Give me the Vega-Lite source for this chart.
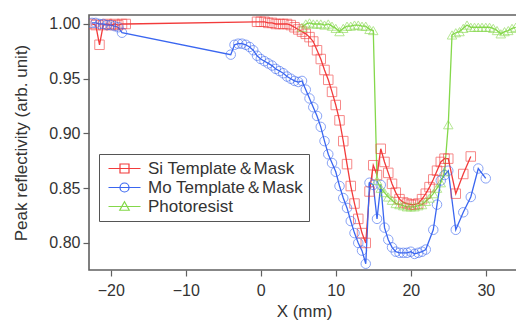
{
  "$schema": "https://vega.github.io/schema/vega-lite/v6.json",
  "width": 430,
  "height": 255,
  "autosize": {"type": "none"},
  "padding": {"left": 89, "top": 15, "right": 0, "bottom": 50},
  "background": "white",
  "config": {
    "font": "Liberation Sans",
    "view": {"stroke": "#606060", "strokeWidth": 1.6},
    "axis": {
      "domain": false,
      "grid": false,
      "tickColor": "#606060",
      "tickSize": 6,
      "tickWidth": 1.2,
      "labelFontSize": 16,
      "labelColor": "#333333",
      "labelFont": "Liberation Sans",
      "titleFontSize": 17,
      "titleFontWeight": "normal",
      "titleColor": "#333333",
      "titleFont": "Liberation Sans"
    }
  },
  "data": {
    "values": [
      {"series": "Si Template＆Mask", "x": -22.5, "y": 1.000},
      {"series": "Si Template＆Mask", "x": -22, "y": 0.999},
      {"series": "Si Template＆Mask", "x": -21.5, "y": 0.981},
      {"series": "Si Template＆Mask", "x": -21, "y": 0.999},
      {"series": "Si Template＆Mask", "x": -20.5, "y": 1.000},
      {"series": "Si Template＆Mask", "x": -20, "y": 0.999},
      {"series": "Si Template＆Mask", "x": -19.5, "y": 1.000},
      {"series": "Si Template＆Mask", "x": -19, "y": 0.999},
      {"series": "Si Template＆Mask", "x": -18.5, "y": 1.000},
      {"series": "Si Template＆Mask", "x": -18, "y": 1.000},
      {"series": "Si Template＆Mask", "x": -0.5, "y": 1.002},
      {"series": "Si Template＆Mask", "x": 0, "y": 1.002},
      {"series": "Si Template＆Mask", "x": 0.5, "y": 1.002},
      {"series": "Si Template＆Mask", "x": 1, "y": 1.001},
      {"series": "Si Template＆Mask", "x": 1.5, "y": 1.001},
      {"series": "Si Template＆Mask", "x": 2, "y": 1.000},
      {"series": "Si Template＆Mask", "x": 2.5, "y": 1.000},
      {"series": "Si Template＆Mask", "x": 3, "y": 1.000},
      {"series": "Si Template＆Mask", "x": 3.5, "y": 1.000},
      {"series": "Si Template＆Mask", "x": 4, "y": 0.999},
      {"series": "Si Template＆Mask", "x": 4.5, "y": 0.997},
      {"series": "Si Template＆Mask", "x": 5, "y": 0.995},
      {"series": "Si Template＆Mask", "x": 5.5, "y": 0.993},
      {"series": "Si Template＆Mask", "x": 6, "y": 0.991},
      {"series": "Si Template＆Mask", "x": 6.5, "y": 0.988},
      {"series": "Si Template＆Mask", "x": 7, "y": 0.984},
      {"series": "Si Template＆Mask", "x": 7.5, "y": 0.976},
      {"series": "Si Template＆Mask", "x": 8, "y": 0.968},
      {"series": "Si Template＆Mask", "x": 8.5, "y": 0.958},
      {"series": "Si Template＆Mask", "x": 9, "y": 0.949},
      {"series": "Si Template＆Mask", "x": 9.5, "y": 0.938},
      {"series": "Si Template＆Mask", "x": 10, "y": 0.926},
      {"series": "Si Template＆Mask", "x": 10.5, "y": 0.912},
      {"series": "Si Template＆Mask", "x": 11, "y": 0.893},
      {"series": "Si Template＆Mask", "x": 11.5, "y": 0.872},
      {"series": "Si Template＆Mask", "x": 12, "y": 0.852},
      {"series": "Si Template＆Mask", "x": 12.5, "y": 0.836},
      {"series": "Si Template＆Mask", "x": 13, "y": 0.822},
      {"series": "Si Template＆Mask", "x": 13.5, "y": 0.809},
      {"series": "Si Template＆Mask", "x": 14, "y": 0.800},
      {"series": "Si Template＆Mask", "x": 14.5, "y": 0.847},
      {"series": "Si Template＆Mask", "x": 15, "y": 0.871},
      {"series": "Si Template＆Mask", "x": 15.5, "y": 0.862},
      {"series": "Si Template＆Mask", "x": 16, "y": 0.886},
      {"series": "Si Template＆Mask", "x": 16.5, "y": 0.874},
      {"series": "Si Template＆Mask", "x": 17, "y": 0.864},
      {"series": "Si Template＆Mask", "x": 17.5, "y": 0.854},
      {"series": "Si Template＆Mask", "x": 18, "y": 0.846},
      {"series": "Si Template＆Mask", "x": 18.5, "y": 0.840},
      {"series": "Si Template＆Mask", "x": 19, "y": 0.837},
      {"series": "Si Template＆Mask", "x": 19.5, "y": 0.836},
      {"series": "Si Template＆Mask", "x": 20, "y": 0.835},
      {"series": "Si Template＆Mask", "x": 20.5, "y": 0.835},
      {"series": "Si Template＆Mask", "x": 21, "y": 0.836},
      {"series": "Si Template＆Mask", "x": 21.5, "y": 0.840},
      {"series": "Si Template＆Mask", "x": 22, "y": 0.845},
      {"series": "Si Template＆Mask", "x": 22.5, "y": 0.851},
      {"series": "Si Template＆Mask", "x": 23, "y": 0.858},
      {"series": "Si Template＆Mask", "x": 23.5, "y": 0.866},
      {"series": "Si Template＆Mask", "x": 24, "y": 0.874},
      {"series": "Si Template＆Mask", "x": 24.5, "y": 0.877},
      {"series": "Si Template＆Mask", "x": 25, "y": 0.877},
      {"series": "Si Template＆Mask", "x": 26, "y": 0.845},
      {"series": "Si Template＆Mask", "x": 27, "y": 0.863},
      {"series": "Si Template＆Mask", "x": 28, "y": 0.879},
      {"series": "Mo Template＆Mask", "x": -22.5, "y": 1.001},
      {"series": "Mo Template＆Mask", "x": -22, "y": 1.001},
      {"series": "Mo Template＆Mask", "x": -21.5, "y": 1.000},
      {"series": "Mo Template＆Mask", "x": -21, "y": 1.000},
      {"series": "Mo Template＆Mask", "x": -20.5, "y": 0.999},
      {"series": "Mo Template＆Mask", "x": -20, "y": 0.999},
      {"series": "Mo Template＆Mask", "x": -19.5, "y": 0.998},
      {"series": "Mo Template＆Mask", "x": -19, "y": 0.997},
      {"series": "Mo Template＆Mask", "x": -18.5, "y": 0.992},
      {"series": "Mo Template＆Mask", "x": -4, "y": 0.972},
      {"series": "Mo Template＆Mask", "x": -3.5, "y": 0.981},
      {"series": "Mo Template＆Mask", "x": -3, "y": 0.982},
      {"series": "Mo Template＆Mask", "x": -2.5, "y": 0.982},
      {"series": "Mo Template＆Mask", "x": -2, "y": 0.981},
      {"series": "Mo Template＆Mask", "x": -1.5, "y": 0.979},
      {"series": "Mo Template＆Mask", "x": -1, "y": 0.976},
      {"series": "Mo Template＆Mask", "x": -0.5, "y": 0.971},
      {"series": "Mo Template＆Mask", "x": 0, "y": 0.968},
      {"series": "Mo Template＆Mask", "x": 0.5, "y": 0.966},
      {"series": "Mo Template＆Mask", "x": 1, "y": 0.964},
      {"series": "Mo Template＆Mask", "x": 1.5, "y": 0.962},
      {"series": "Mo Template＆Mask", "x": 2, "y": 0.959},
      {"series": "Mo Template＆Mask", "x": 2.5, "y": 0.957},
      {"series": "Mo Template＆Mask", "x": 3, "y": 0.955},
      {"series": "Mo Template＆Mask", "x": 3.5, "y": 0.952},
      {"series": "Mo Template＆Mask", "x": 4, "y": 0.950},
      {"series": "Mo Template＆Mask", "x": 4.5, "y": 0.948},
      {"series": "Mo Template＆Mask", "x": 5, "y": 0.947},
      {"series": "Mo Template＆Mask", "x": 5.5, "y": 0.948},
      {"series": "Mo Template＆Mask", "x": 6, "y": 0.940},
      {"series": "Mo Template＆Mask", "x": 6.5, "y": 0.932},
      {"series": "Mo Template＆Mask", "x": 7, "y": 0.924},
      {"series": "Mo Template＆Mask", "x": 7.5, "y": 0.916},
      {"series": "Mo Template＆Mask", "x": 8, "y": 0.906},
      {"series": "Mo Template＆Mask", "x": 8.5, "y": 0.893},
      {"series": "Mo Template＆Mask", "x": 9, "y": 0.881},
      {"series": "Mo Template＆Mask", "x": 9.5, "y": 0.873},
      {"series": "Mo Template＆Mask", "x": 10, "y": 0.865},
      {"series": "Mo Template＆Mask", "x": 10.5, "y": 0.852},
      {"series": "Mo Template＆Mask", "x": 11, "y": 0.841},
      {"series": "Mo Template＆Mask", "x": 11.5, "y": 0.832},
      {"series": "Mo Template＆Mask", "x": 12, "y": 0.820},
      {"series": "Mo Template＆Mask", "x": 12.5, "y": 0.809},
      {"series": "Mo Template＆Mask", "x": 13, "y": 0.800},
      {"series": "Mo Template＆Mask", "x": 13.5, "y": 0.793},
      {"series": "Mo Template＆Mask", "x": 14, "y": 0.781},
      {"series": "Mo Template＆Mask", "x": 14.5, "y": 0.855},
      {"series": "Mo Template＆Mask", "x": 15, "y": 0.853},
      {"series": "Mo Template＆Mask", "x": 15.5, "y": 0.822},
      {"series": "Mo Template＆Mask", "x": 16, "y": 0.853},
      {"series": "Mo Template＆Mask", "x": 16.5, "y": 0.814},
      {"series": "Mo Template＆Mask", "x": 17, "y": 0.803},
      {"series": "Mo Template＆Mask", "x": 17.5, "y": 0.796},
      {"series": "Mo Template＆Mask", "x": 18, "y": 0.792},
      {"series": "Mo Template＆Mask", "x": 18.5, "y": 0.791},
      {"series": "Mo Template＆Mask", "x": 19, "y": 0.791},
      {"series": "Mo Template＆Mask", "x": 19.5, "y": 0.791},
      {"series": "Mo Template＆Mask", "x": 20, "y": 0.792},
      {"series": "Mo Template＆Mask", "x": 20.5, "y": 0.790},
      {"series": "Mo Template＆Mask", "x": 21, "y": 0.791},
      {"series": "Mo Template＆Mask", "x": 21.5, "y": 0.792},
      {"series": "Mo Template＆Mask", "x": 22, "y": 0.794},
      {"series": "Mo Template＆Mask", "x": 23, "y": 0.812},
      {"series": "Mo Template＆Mask", "x": 23.5, "y": 0.835},
      {"series": "Mo Template＆Mask", "x": 24, "y": 0.857},
      {"series": "Mo Template＆Mask", "x": 24.5, "y": 0.862},
      {"series": "Mo Template＆Mask", "x": 25, "y": 0.866},
      {"series": "Mo Template＆Mask", "x": 26, "y": 0.812},
      {"series": "Mo Template＆Mask", "x": 27, "y": 0.828},
      {"series": "Mo Template＆Mask", "x": 28, "y": 0.842},
      {"series": "Mo Template＆Mask", "x": 29, "y": 0.868},
      {"series": "Mo Template＆Mask", "x": 30, "y": 0.859},
      {"series": "Photoresist", "x": 5.5, "y": 0.997},
      {"series": "Photoresist", "x": 6, "y": 1.000},
      {"series": "Photoresist", "x": 6.5, "y": 1.001},
      {"series": "Photoresist", "x": 7, "y": 1.000},
      {"series": "Photoresist", "x": 7.5, "y": 1.000},
      {"series": "Photoresist", "x": 8, "y": 1.000},
      {"series": "Photoresist", "x": 8.5, "y": 0.999},
      {"series": "Photoresist", "x": 9, "y": 1.000},
      {"series": "Photoresist", "x": 9.5, "y": 0.998},
      {"series": "Photoresist", "x": 10, "y": 0.996},
      {"series": "Photoresist", "x": 10.5, "y": 0.993},
      {"series": "Photoresist", "x": 11, "y": 0.996},
      {"series": "Photoresist", "x": 11.5, "y": 0.998},
      {"series": "Photoresist", "x": 12, "y": 0.998},
      {"series": "Photoresist", "x": 12.5, "y": 0.999},
      {"series": "Photoresist", "x": 13, "y": 0.999},
      {"series": "Photoresist", "x": 13.5, "y": 0.998},
      {"series": "Photoresist", "x": 14, "y": 0.998},
      {"series": "Photoresist", "x": 14.5, "y": 0.995},
      {"series": "Photoresist", "x": 15, "y": 0.994},
      {"series": "Photoresist", "x": 15.5, "y": 0.857},
      {"series": "Photoresist", "x": 16, "y": 0.850},
      {"series": "Photoresist", "x": 16.5, "y": 0.846},
      {"series": "Photoresist", "x": 17, "y": 0.842},
      {"series": "Photoresist", "x": 17.5, "y": 0.839},
      {"series": "Photoresist", "x": 18, "y": 0.836},
      {"series": "Photoresist", "x": 18.5, "y": 0.835},
      {"series": "Photoresist", "x": 19, "y": 0.834},
      {"series": "Photoresist", "x": 19.5, "y": 0.833},
      {"series": "Photoresist", "x": 20, "y": 0.833},
      {"series": "Photoresist", "x": 20.5, "y": 0.833},
      {"series": "Photoresist", "x": 21, "y": 0.834},
      {"series": "Photoresist", "x": 21.5, "y": 0.835},
      {"series": "Photoresist", "x": 22, "y": 0.838},
      {"series": "Photoresist", "x": 22.5, "y": 0.841},
      {"series": "Photoresist", "x": 23, "y": 0.845},
      {"series": "Photoresist", "x": 23.5, "y": 0.850},
      {"series": "Photoresist", "x": 24, "y": 0.855},
      {"series": "Photoresist", "x": 24.5, "y": 0.865},
      {"series": "Photoresist", "x": 25, "y": 0.908},
      {"series": "Photoresist", "x": 25.5, "y": 0.990},
      {"series": "Photoresist", "x": 26, "y": 0.992},
      {"series": "Photoresist", "x": 26.5, "y": 0.993},
      {"series": "Photoresist", "x": 27, "y": 0.996},
      {"series": "Photoresist", "x": 27.5, "y": 0.999},
      {"series": "Photoresist", "x": 28, "y": 0.997},
      {"series": "Photoresist", "x": 28.5, "y": 0.997},
      {"series": "Photoresist", "x": 29, "y": 0.997},
      {"series": "Photoresist", "x": 29.5, "y": 0.997},
      {"series": "Photoresist", "x": 30, "y": 0.997},
      {"series": "Photoresist", "x": 30.5, "y": 0.997},
      {"series": "Photoresist", "x": 31, "y": 0.996},
      {"series": "Photoresist", "x": 31.5, "y": 0.994},
      {"series": "Photoresist", "x": 32, "y": 0.991},
      {"series": "Photoresist", "x": 32.5, "y": 0.993},
      {"series": "Photoresist", "x": 33, "y": 0.994},
      {"series": "Photoresist", "x": 33.5, "y": 0.996},
      {"series": "Photoresist", "x": 34, "y": 0.997}
    ]
  },
  "encoding": {
    "x": {
      "field": "x",
      "type": "quantitative",
      "scale": {"domain": [-22.9, 34.43], "nice": false, "zero": false},
      "axis": {"values": [-20, -10, 0, 10, 20, 30], "title": "X (mm)", "titlePadding": 5, "labelPadding": 6}
    },
    "y": {
      "field": "y",
      "type": "quantitative",
      "scale": {"domain": [0.7753, 1.0082], "nice": false, "zero": false},
      "axis": {"values": [0.8, 0.85, 0.9, 0.95, 1.0], "format": ".2f", "title": "Peak reflectivity (arb. unit)", "titlePadding": 18, "labelPadding": 3}
    }
  },
  "layer": [
    {
      "mark": {"type": "line", "strokeWidth": 1.3, "clip": true},
      "encoding": {
        "color": {
          "field": "series",
          "type": "nominal",
          "scale": {"domain": ["Si Template＆Mask", "Mo Template＆Mask", "Photoresist"], "range": ["#f23b3b", "#3a66f0", "#84d84a"]},
          "legend": {
            "orient": "none",
            "legendX": 10,
            "legendY": 139,
            "title": null,
            "strokeColor": "#555555",
            "fillColor": "white",
            "padding": 6,
            "labelFontSize": 17,
            "labelFont": "Liberation Sans",
            "labelColor": "#333333",
            "labelLimit": 300,
            "symbolSize": 100,
            "symbolOffset": 11,
            "labelOffset": 15,
            "rowPadding": 1,
            "symbolStrokeWidth": 1.2,
            "encode": {
              "symbols": {
                "update": {
                  "shape": {"signal": "datum.value == 'Si Template＆Mask' ? 'M-3.2,0H3.2M-0.9,-0.9H0.9V0.9H-0.9Z' : datum.value == 'Mo Template＆Mask' ? 'M-3.2,0H3.2M0.9,0A0.9,0.9,0,1,1,-0.9,0A0.9,0.9,0,1,1,0.9,0' : 'M-3.2,0H3.2M0,-0.95L0.95,0.75H-0.95Z'"},
                  "fill": {"value": "transparent"}
                }
              }
            }
          }
        }
      }
    },
    {
      "mark": {"type": "point", "filled": false, "size": 90, "strokeWidth": 1, "opacity": 0.6, "clip": true},
      "encoding": {
        "color": {"field": "series", "type": "nominal"},
        "shape": {
          "field": "series",
          "type": "nominal",
          "scale": {"domain": ["Photoresist", "Si Template＆Mask", "Mo Template＆Mask"], "range": ["triangle-up", "square", "circle"]},
          "legend": null
        }
      }
    }
  ]
}
